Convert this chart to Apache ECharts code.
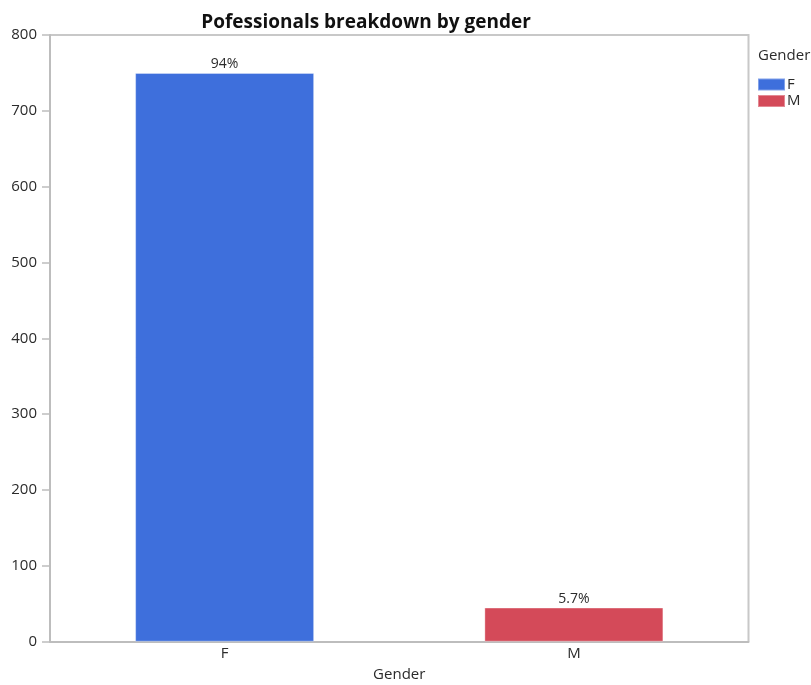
<!DOCTYPE html>
<html>
<head>
<meta charset="utf-8">
<script src="https://cdn.jsdelivr.net/npm/echarts@6/dist/echarts.min.js"></script>
<style>
  html, body { margin: 0; padding: 0; background: #fff; }
  #chart { width: 811px; height: 685px; }
</style>
</head>
<body>
<div id="chart"></div>
<script>
// Headcount of professionals by gender
const categories = ['F', 'M'];
const counts = [750, 45];
const colors = ['#3e6fdc', '#d44a59'];
const yTicks = { min: 0, max: 800, interval: 100 };

const total = counts.reduce((a, b) => a + b, 0);
function pctLabel(v) {
  const p = v / total * 100;
  return p >= 10 ? Math.round(p) + '%' : p.toFixed(1) + '%';
}

const FONT = '"Open Sans", "Noto Sans", sans-serif';
const TEXT = '#2b2b2b';
const AXIS = '#bdbdbd';

const series = categories.map((name, i) => ({
  name: name,
  type: 'bar',
  stack: 'gender',
  barWidth: 179,
  data: categories.map((c, j) => (j === i ? counts[i] : '-')),
  itemStyle: { color: colors[i], borderColor: 'rgba(255,255,255,0.35)', borderWidth: 1 },
  label: {
    show: true,
    position: 'top',
    distance: 2,
    color: TEXT,
    fontFamily: FONT,
    fontSize: 14,
    formatter: p => pctLabel(p.value)
  }
}));

const chart = echarts.init(document.getElementById('chart'), null, { renderer: 'canvas' });
chart.setOption({
  backgroundColor: '#fff',
  animation: false,
  title: {
    text: 'Pofessionals breakdown by gender',
    left: 361,
    textAlign: 'center',
    top: 8,
    textStyle: { fontFamily: FONT, fontWeight: 'bold', fontSize: 19, color: '#111' }
  },
  legend: {
    orient: 'vertical',
    left: 757,
    top: 77,
    padding: 0,
    itemWidth: 27,
    itemHeight: 12,
    itemGap: 1.5,
    data: categories,
    textStyle: { fontFamily: FONT, fontSize: 15, color: TEXT, padding: [0, 0, 0, -3] },
    icon: 'rect'
  },
  graphic: [
    {
      type: 'text',
      left: 758,
      top: 48,
      style: { text: 'Gender', font: '15px ' + FONT, fill: TEXT }
    },
    {
      // top and right frame of the plotting area
      type: 'polyline',
      shape: { points: [[50, 35], [748.5, 35], [748.5, 641.7]] },
      style: { stroke: '#c8c8c8', lineWidth: 2, fill: null }
    }
  ],
  grid: { left: 50, right: 62.5, top: 35, bottom: 43.3, outerBoundsMode: 'none', containLabel: false },
  xAxis: {
    type: 'category',
    data: categories,
    name: 'Gender',
    nameLocation: 'middle',
    nameGap: 26,
    nameTextStyle: { fontFamily: FONT, fontSize: 15, color: TEXT },
    axisLine: { lineStyle: { color: AXIS, width: 2 } },
    axisTick: { show: false },
    axisLabel: { fontFamily: FONT, fontSize: 15, color: TEXT, margin: 5 }
  },
  yAxis: {
    type: 'value',
    min: yTicks.min,
    max: yTicks.max,
    interval: yTicks.interval,
    axisLine: { show: true, lineStyle: { color: AXIS, width: 2 } },
    axisTick: { show: true, length: 8, lineStyle: { color: AXIS, width: 1.5 } },
    splitLine: { show: false },
    axisLabel: { fontFamily: FONT, fontSize: 15, color: TEXT, margin: 13 }
  },
  series: series
});
</script>
</body>
</html>
